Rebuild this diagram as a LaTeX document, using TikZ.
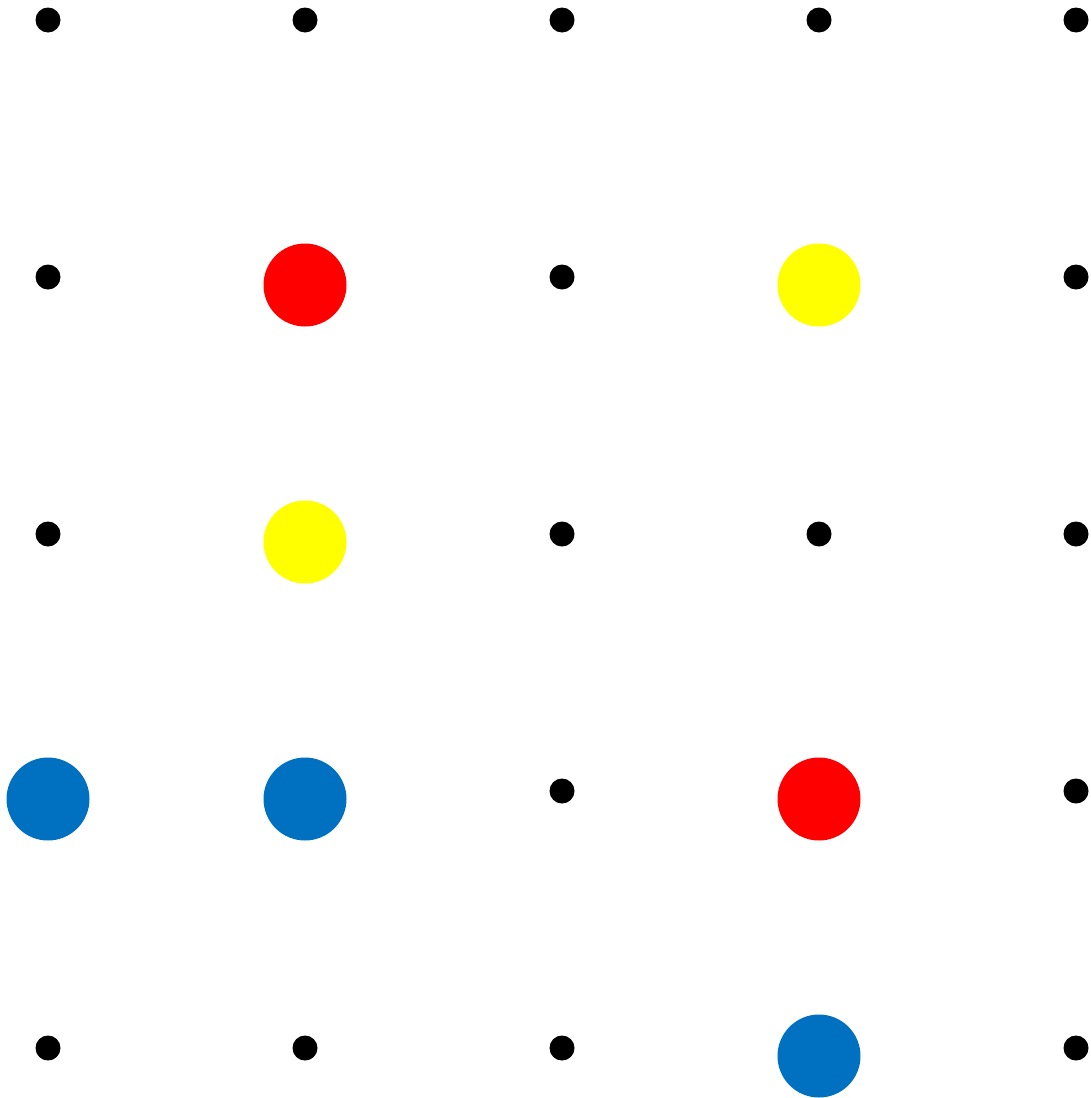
\documentclass[tikz,border=0pt]{standalone}
\usepackage{xcolor}
\usepackage{tikz}
\definecolor{dotred}{HTML}{FF0000}
\definecolor{dotyellow}{HTML}{FFFF00}
\definecolor{dotblue}{HTML}{0070C0}
\begin{document}
\begin{tikzpicture}[
x=1pt,y=-1pt,
pt/.style={circle,fill=black,inner sep=0pt,minimum size=25pt},
big/.style={circle,inner sep=0pt,minimum size=83pt}
]
\useasboundingbox (0,0) rectangle (1091,1098);
% grid points
\foreach \i/\x in {1/48,2/305,3/562,4/819,5/1076}
  \foreach \j/\y in {1/20,2/277,3/534,4/791,5/1048}
    \node[pt] (p\i\j) at (\x,\y) {};
% coloured counters
\node[big,fill=dotred] (r1) at (305,285) {};
\node[big,fill=dotyellow] (y1) at (819,285) {};
\node[big,fill=dotyellow] (y2) at (305,542) {};
\node[big,fill=dotblue] (b1) at (48,799) {};
\node[big,fill=dotblue] (b2) at (305,799) {};
\node[big,fill=dotred] (r2) at (819,799) {};
\node[big,fill=dotblue] (b3) at (819,1056) {};
\end{tikzpicture}
\end{document}
